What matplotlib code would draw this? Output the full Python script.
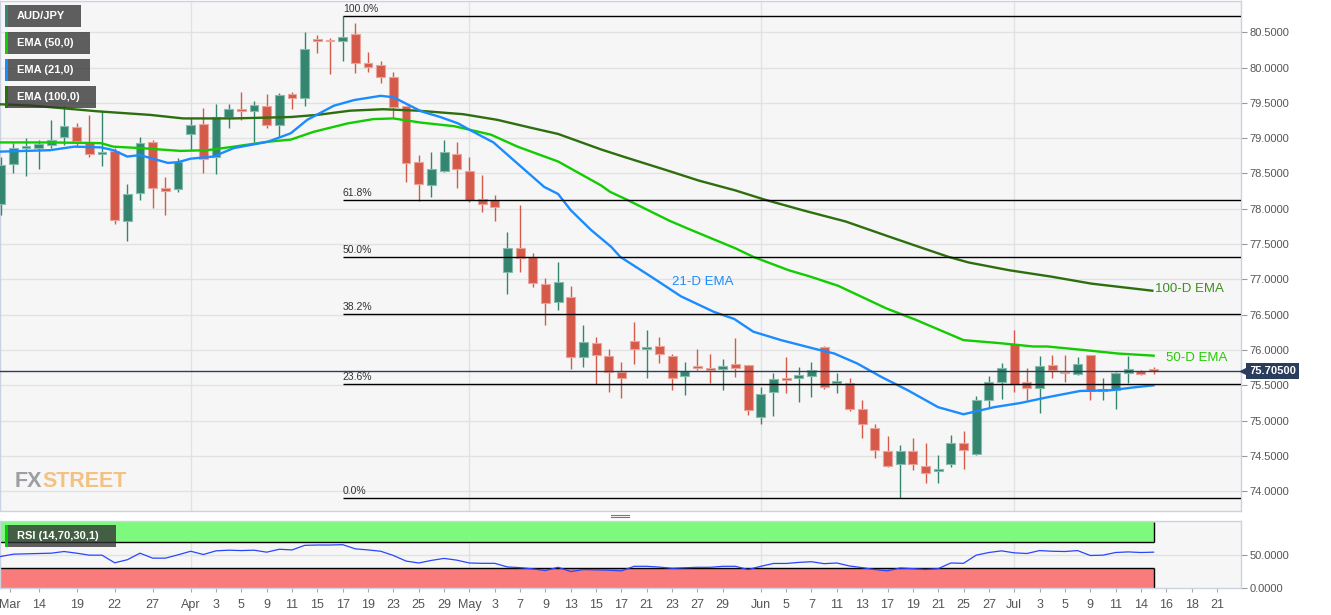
import numpy as np
import matplotlib
matplotlib.use("Agg")
import matplotlib.pyplot as plt
from matplotlib.patches import Rectangle
from matplotlib.lines import Line2D
from matplotlib import transforms

plt.rcParams['font.family'] = ['Liberation Sans', 'DejaVu Sans']

# ---------------- data ----------------
opens = [78.07, 78.64, 78.86, 78.86, 78.91, 79.01, 79.16, 78.95, 78.78, 78.82,
         77.83, 78.22, 78.94, 78.29, 78.28, 79.06, 79.20, 78.73, 79.30, 79.42,
         79.38, 79.45, 79.18, 79.62, 79.57, 80.40, 80.39, 80.37, 80.47, 80.06,
         80.03, 79.86, 79.45, 78.66, 78.33, 78.54, 78.78, 78.54, 78.14, 78.13,
         77.11, 77.45, 77.32, 76.93, 76.68, 76.75, 75.90, 76.10, 75.92, 75.69,
         76.13, 76.02, 76.05, 75.92, 75.63, 75.78, 75.75, 75.73, 75.80, 75.79,
         75.05, 75.40, 75.60, 75.61, 75.63, 76.04, 75.53, 75.53, 75.17, 74.90,
         74.57, 74.38, 74.57, 74.36, 74.28, 74.39, 74.69, 74.53, 75.29, 75.55,
         76.08, 75.54, 75.46, 75.79, 75.69, 75.66, 75.93, 75.42, 75.43, 75.67,
         75.70, 75.71]
highs = [78.73, 78.93, 79.00, 78.98, 79.26, 79.45, 79.21, 79.33, 79.38, 78.86,
         78.35, 79.01, 78.97, 78.45, 78.72, 79.28, 79.43, 79.48, 79.49, 79.65,
         79.53, 79.62, 79.64, 79.66, 80.50, 80.46, 80.42, 80.73, 80.63, 80.22,
         80.10, 79.94, 79.46, 78.76, 78.81, 78.98, 78.94, 78.73, 78.48, 78.20,
         77.67, 78.05, 77.38, 77.02, 77.24, 76.90, 76.36, 76.18, 76.01, 75.83,
         76.39, 76.28, 76.18, 75.94, 75.83, 76.01, 75.95, 75.87, 76.17, 75.79,
         75.48, 75.68, 75.90, 75.76, 75.83, 76.05, 75.67, 75.61, 75.29, 74.95,
         74.78, 74.66, 74.76, 74.68, 74.52, 74.80, 74.85, 75.35, 75.63, 75.82,
         76.28, 75.74, 75.92, 75.93, 75.93, 75.90, 75.93, 75.61, 75.69, 75.92,
         75.72, 75.76]
lows = [77.91, 78.51, 78.46, 78.57, 78.86, 78.90, 78.88, 78.73, 78.60, 77.78,
        77.55, 78.13, 78.01, 77.91, 78.24, 78.83, 78.51, 78.49, 79.15, 79.26,
        78.95, 79.14, 79.01, 79.42, 79.46, 80.20, 79.91, 80.10, 79.92, 79.94,
        79.78, 79.28, 78.38, 78.11, 78.17, 78.52, 78.29, 78.10, 77.95, 77.83,
        76.79, 77.11, 76.89, 76.35, 76.57, 75.73, 75.76, 75.52, 75.40, 75.32,
        75.80, 75.61, 75.81, 75.43, 75.36, 75.71, 75.53, 75.44, 75.62, 75.08,
        74.95, 75.07, 75.39, 75.27, 75.34, 75.45, 75.39, 75.13, 74.76, 74.47,
        74.34, 73.90, 74.30, 74.11, 74.12, 74.34, 74.32, 74.51, 75.19, 75.30,
        75.41, 75.29, 75.11, 75.60, 75.54, 75.64, 75.29, 75.29, 75.16, 75.53,
        75.65, 75.66]
closes = [78.62, 78.86, 78.88, 78.92, 78.97, 79.17, 78.96, 78.78, 78.80, 77.84,
          78.21, 78.93, 78.29, 78.25, 78.66, 79.18, 78.71, 79.30, 79.42, 79.38,
          79.47, 79.19, 79.61, 79.57, 80.27, 80.38, 80.37, 80.43, 80.07, 80.01,
          79.87, 79.44, 78.65, 78.35, 78.56, 78.80, 78.56, 78.13, 78.07, 78.03,
          77.45, 77.31, 76.95, 76.67, 76.97, 75.90, 76.11, 75.93, 75.69, 75.60,
          76.02, 76.04, 75.94, 75.61, 75.70, 75.75, 75.72, 75.78, 75.75, 75.15,
          75.38, 75.59, 75.58, 75.64, 75.72, 75.48, 75.55, 75.17, 74.95, 74.59,
          74.36, 74.57, 74.39, 74.26, 74.32, 74.69, 74.59, 75.29, 75.54, 75.74,
          75.52, 75.46, 75.78, 75.72, 75.67, 75.80, 75.42, 75.43, 75.67, 75.73,
          75.66, 75.705]

ema21_idx = [0, 3.9, 5.8, 7.9, 8.9, 10.0, 11.0, 13.2, 14.0, 15.0, 16.8, 18.4, 21.1,
             22.9, 24.2, 26.3, 27.9, 30.0, 31.0, 33.2, 34.7, 36.1, 37.1, 38.9, 40.8,
             42.9, 44.0, 45.0, 46.6, 48.2, 48.9, 51.5, 53.7, 56.3, 57.9, 59.4, 61.6,
             64.2, 65.8, 67.6, 69.5, 71.6, 74.0, 76.0, 78.4, 80.5, 82.6, 85.2, 87.6,
             89.4, 91.0]
ema21_val = [78.81, 78.83, 78.88, 78.87, 78.83, 78.74, 78.76, 78.65, 78.66, 78.71,
             78.74, 78.86, 78.95, 79.07, 79.26, 79.46, 79.54, 79.60, 79.58, 79.38,
             79.30, 79.21, 79.11, 78.94, 78.64, 78.31, 78.21, 77.98, 77.70, 77.46,
             77.32, 77.02, 76.76, 76.54, 76.44, 76.26, 76.14, 76.02, 75.95, 75.81,
             75.62, 75.43, 75.19, 75.09, 75.19, 75.25, 75.33, 75.42, 75.43, 75.47,
             75.50]

ema50_idx = [0, 3.9, 7.9, 8.9, 11.0, 14.2, 16.3, 18.4, 21.1, 22.9, 24.7, 27.4, 29.4,
             31.0, 33.2, 35.8, 38.7, 40.8, 44.0, 47.4, 48.1, 49.3, 52.8, 54.5, 58.0,
             59.4, 62.2, 63.9, 66.1, 69.9, 72.2, 76.0, 78.7, 81.5, 82.6, 85.5, 88.2,
             91.0]
ema50_val = [78.94, 78.94, 78.93, 78.88, 78.86, 78.82, 78.83, 78.88, 78.95, 78.98,
             79.09, 79.21, 79.27, 79.28, 79.22, 79.17, 79.05, 78.88, 78.67, 78.33,
             78.24, 78.14, 77.83, 77.70, 77.44, 77.32, 77.13, 77.04, 76.91, 76.59,
             76.43, 76.14, 76.10, 76.05, 76.05, 76.00, 75.95, 75.92]

ema100_idx = [0, 2.6, 7.7, 11.8, 14.4, 18.4, 22.9, 25.0, 27.6, 30.2, 32.9, 36.5,
              39.2, 41.8, 44.0, 47.4, 49.3, 52.5, 55.1, 58.0, 60.3, 63.5, 66.7,
              69.9, 72.5, 74.8, 76.4, 79.6, 82.9, 86.1, 90.9]
ema100_val = [79.48, 79.46, 79.38, 79.33, 79.28, 79.28, 79.30, 79.33, 79.39, 79.41,
              79.39, 79.34, 79.26, 79.15, 79.06, 78.84, 78.73, 78.55, 78.40, 78.26,
              78.13, 77.97, 77.82, 77.62, 77.46, 77.32, 77.24, 77.13, 77.04, 76.94,
              76.84]

rsi_values = [47.5, 51, 51.5, 52, 52.5, 55, 52.5, 49.5, 49.5, 38,
              42.6, 52.5, 45, 45, 50, 55.4, 50.5, 56, 57, 56.4,
              57, 54, 58.4, 57.4, 64.3, 64.8, 64.8, 65.3, 59, 57.4,
              55.4, 49, 40.6, 37.7, 41.6, 44.6, 42, 37.7, 37.2, 37.2,
              31.7, 30.7, 28.8, 26.3, 31.2, 24.8, 27.8, 27.3, 26.8, 25.8,
              32.7, 32.7, 31.5, 29.7, 30.5, 31.2, 31.2, 32.7, 32.7, 27.8,
              32.7, 37, 37, 38.6, 39.6, 36.7, 37.7, 33.2, 30.7, 27.8,
              25.8, 30.2, 29.2, 27.8, 29.2, 37.7, 37.2, 49.5, 53.5, 56,
              53, 52, 56.4, 55.4, 55, 56.4, 49, 49.5, 53.5, 54.4,
              53.5, 54]

xtick_idx = [0.7, 3, 6, 9, 12, 15, 17, 19, 21, 23, 25, 27, 29, 31, 33, 35, 37, 39, 41,
             43, 45, 47, 49, 51, 53, 55, 57, 60, 62, 64, 66, 68, 70, 72, 74, 76, 78,
             80, 82, 84, 86, 88, 90, 92, 94, 96]
xtick_labels = ['Mar', '14', '19', '22', '27', 'Apr', '3', '5', '9', '11', '15', '17',
                '19', '23', '25', '29', 'May', '3', '7', '9', '13', '15', '17', '21',
                '23', '27', '29', 'Jun', '5', '7', '11', '13', '17', '19', '21', '25',
                '27', 'Jul', '3', '5', '9', '11', '14', '16', '18', '21']
month_idx = [15, 37, 60, 80]
price_ticks = [74.0, 74.5, 75.0, 75.5, 76.0, 76.5, 77.0, 77.5, 78.0, 78.5, 79.0,
               79.5, 80.0, 80.5]
rsi_ticks = [0, 50]
fib_ratios = [0.0, 0.236, 0.382, 0.5, 0.618, 1.0]

# ---------------- style ----------------
W, H = 1331, 615
BULL = '#348670'
BEAR = '#d65a4a'
BULL_EDGE = '#86bcad'
BEAR_EDGE = '#eaa59b'
C21 = '#1a8cff'
C50 = '#11cc00'
C100 = '#2d6e0e'
NAVY = '#2b3d5c'
BG = '#f6f6f6'
GRID = '#e2e2e2'
SPINE = '#cdd2e3'


def fx(px):
    return px / W


def fy(py):
    return 1 - py / H


fig = plt.figure(figsize=(W / 100, H / 100), dpi=100)
fig.patch.set_facecolor('white')

ax = fig.add_axes([0, fy(511), 1241 / W, 510 / H])
rax = fig.add_axes([0, fy(588), 1241 / W, 67 / H])

XL = (-0.05, 97.9)

# ---------------- main panel ----------------
ax.set_facecolor(BG)
ax.set_xlim(*XL)
ax.set_ylim(73.72, 80.943)
for s in ax.spines.values():
    s.set_color(SPINE)
    s.set_linewidth(1)
for v in price_ticks:
    ax.axhline(v, color=GRID, lw=1, zorder=0)
for m in month_idx:
    ax.axvline(m, color=GRID, lw=1, zorder=0)

ax.yaxis.tick_right()
ax.set_yticks(price_ticks)
ax.set_yticklabels([f'{v:.4f}' for v in price_ticks])
ax.tick_params(axis='y', length=4, width=0.8, color='#999999', labelsize=8,
               labelcolor='#555555', pad=2)
ax.tick_params(axis='x', bottom=False, labelbottom=False)

o = np.array(opens)
h = np.array(highs)
l = np.array(lows)
c = np.array(closes)
idx = np.arange(len(c))
up = c >= o
cols = [BULL if u else BEAR for u in up]
ecols = [BULL_EDGE if u else BEAR_EDGE for u in up]
ax.vlines(idx, l, h, colors=cols, lw=1, zorder=3)
body_bottom = np.minimum(o, c)
body_h = np.maximum(np.abs(c - o), 0.025)
ax.bar(idx, body_h, bottom=body_bottom, width=0.7, color=cols, edgecolor=ecols,
       linewidth=0.8, zorder=4)

ax.plot(ema100_idx, ema100_val, color=C100, lw=1.7, zorder=5)
ax.plot(ema50_idx, ema50_val, color=C50, lw=1.7, zorder=5)
ax.plot(ema21_idx, ema21_val, color=C21, lw=1.7, zorder=5)

# Fibonacci retracement
fib_hi = max(highs)
fib_lo = min(lows)
fib_start = int(np.argmax(highs))
for r in fib_ratios:
    lvl = fib_lo + r * (fib_hi - fib_lo)
    ax.hlines(lvl, fib_start, XL[1], color='black', lw=1, zorder=6)
    ax.annotate(f'{r * 100:.1f}%', xy=(fib_start, lvl), xytext=(0, 1.5),
                textcoords='offset points', ha='left', va='bottom', fontsize=7.5,
                color='#333333', zorder=6)

# current price
last = closes[-1]
ax.axhline(last, color=NAVY, lw=1, zorder=7)
ax.annotate(f'{last:.5f}', xy=(1, last), xycoords=('axes fraction', 'data'),
            xytext=(6, 0), textcoords='offset points', ha='left', va='center',
            fontsize=8, fontweight='bold', color='white',
            bbox=dict(boxstyle='square,pad=0.28', fc=NAVY, ec='none'),
            annotation_clip=False, zorder=10)
tri_tr = transforms.offset_copy(
    transforms.blended_transform_factory(ax.transAxes, ax.transData),
    fig=fig, x=4, y=0, units='dots')
ax.plot([1.0], [last], marker='<', ms=7, color=NAVY, transform=tri_tr,
        clip_on=False, zorder=10)

# EMA labels
ax.text(53.0, 76.97, '21-D EMA', color=C21, fontsize=9.5, va='center', ha='left')
ax.text(91.1, 76.86, '100-D EMA', color='#3d8f1e', fontsize=9.5, va='center',
        ha='left')
ax.text(92.0, 75.88, '50-D EMA', color='#22cc00', fontsize=9.5, va='center',
        ha='left')

# watermark
fx_txt = ax.text(15 / 1241, 1 - (487 - 1) / 510, 'FX', transform=ax.transAxes,
                 fontsize=15.5, fontweight='bold', color='#9b9ea3',
                 family=['Liberation Sans', 'DejaVu Sans'],
                 ha='left', va='baseline', zorder=1)
ax.annotate('STREET', xy=(1, 0), xycoords=fx_txt, xytext=(0, 0),
            textcoords='offset points', fontsize=15.5, fontweight='bold',
            color='#f3c283', family=['Liberation Sans', 'DejaVu Sans'],
            ha='left', va='bottom', zorder=1)

# ---------------- RSI panel ----------------
rax.set_facecolor(BG)
rax.set_xlim(*XL)
rax.set_ylim(0, 101)
for s in rax.spines.values():
    s.set_color(SPINE)
    s.set_linewidth(1)
rax.axhline(50, color=GRID, lw=1, zorder=0)
for m in month_idx:
    rax.axvline(m, color=GRID, lw=1, zorder=0)
xe = len(rsi_values) - 1
rax.add_patch(Rectangle((XL[0], 70), xe - XL[0], 30, fc='#7dfa7d', ec='none', zorder=1))
rax.add_patch(Rectangle((XL[0], 0), xe - XL[0], 30, fc='#fa7b7b', ec='none', zorder=1))
rax.hlines([70, 30], XL[0], xe, colors='black', lw=1, zorder=2)
rax.vlines(xe, 70, 100, colors='black', lw=1, zorder=2)
rax.vlines(xe, 0, 30, colors='black', lw=1, zorder=2)
rax.plot(np.arange(len(rsi_values)), rsi_values, color='#2a45ff', lw=0.9, zorder=3)

rax.yaxis.tick_right()
rax.set_yticks(rsi_ticks)
rax.set_yticklabels([f'{v:.4f}' for v in rsi_ticks])
rax.tick_params(axis='y', length=4, width=0.8, color='#999999', labelsize=8,
                labelcolor='#555555', pad=2)
rax.set_xticks(xtick_idx)
rax.set_xticklabels(xtick_labels, fontsize=9, color='#555555')
rax.tick_params(axis='x', length=3, width=0.8, color='#aaaaaa', pad=5)

# ---------------- legend boxes ----------------
def legend_box(x0, y0, x1, y1, strip, text):
    fig.add_artist(Rectangle((fx(x0), fy(y1)), (x1 - x0) / W, (y1 - y0) / H,
                             transform=fig.transFigure, fc='#333333', alpha=0.78,
                             ec='none', zorder=20))
    fig.add_artist(Rectangle((fx(x0), fy(y1)), 3 / W, (y1 - y0) / H,
                             transform=fig.transFigure, fc=strip, ec='none',
                             zorder=21))
    fig.text(fx(x0 + 12), fy((y0 + y1) / 2), text, color='white', fontsize=8,
             fontweight='bold', va='center', ha='left', zorder=22)


legend_box(5, 5, 81, 27, BULL, 'AUD/JPY')
legend_box(5, 32, 90, 54, C50, 'EMA (50,0)')
legend_box(5, 59, 90, 81, C21, 'EMA (21,0)')
legend_box(5, 86, 96, 108, C100, 'EMA (100,0)')
legend_box(5, 525, 116, 547, '#00cc00', 'RSI (14,70,30,1)')

# panel drag handle
for yy in (514.5, 517.0):
    fig.add_artist(Line2D([fx(611), fx(629)], [fy(yy), fy(yy)], color='#777777',
                          lw=0.8, transform=fig.transFigure))

fig.savefig('out.png', dpi=100, facecolor='white')
